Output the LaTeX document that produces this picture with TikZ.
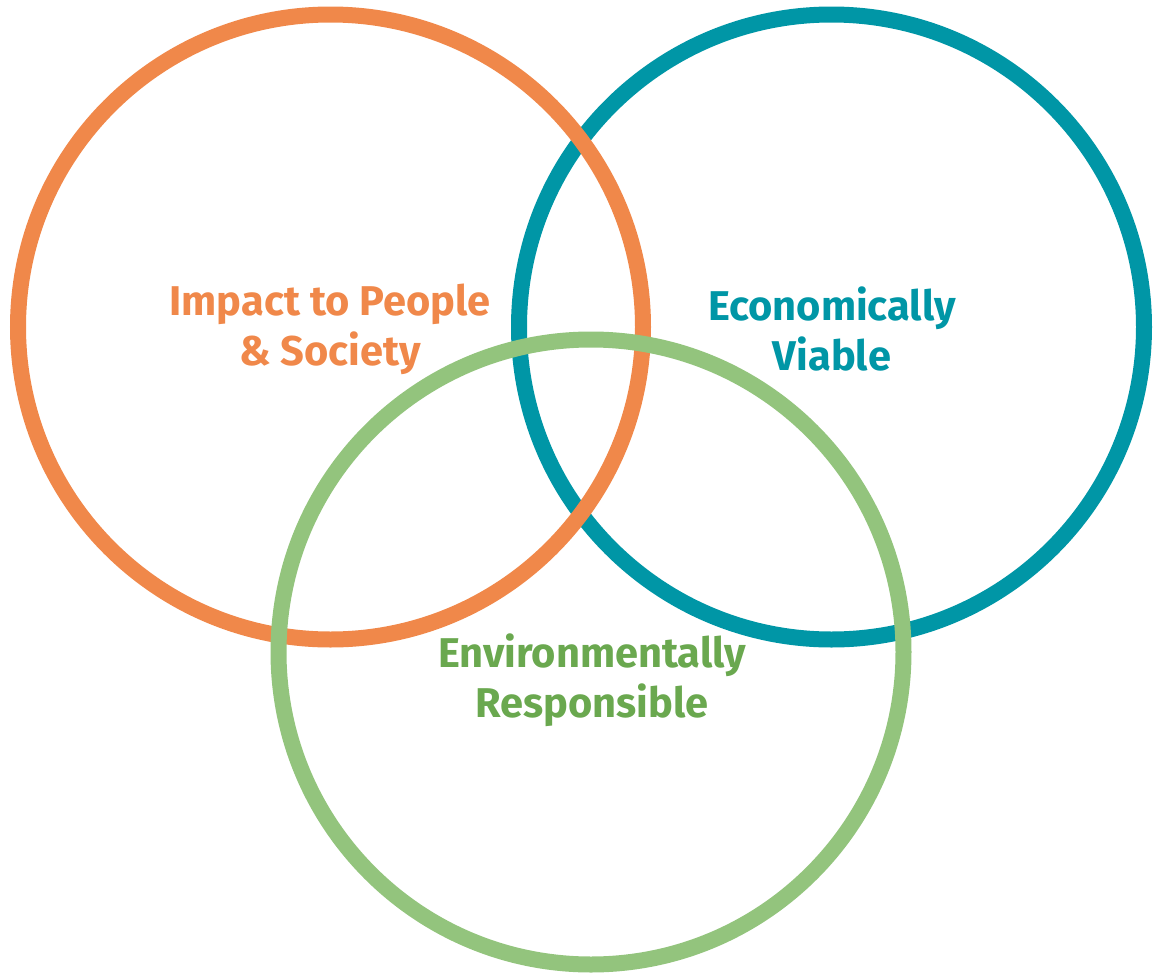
\documentclass[tikz,border=0pt]{standalone}
\usepackage{fontspec}
\setmainfont{Fira Sans}
\definecolor{peopleorange}{HTML}{F0884A}
\definecolor{econteal}{HTML}{0096A6}
\definecolor{envgreen}{HTML}{93C47D}
\definecolor{envtext}{HTML}{6AA84F}
\begin{document}
\begin{tikzpicture}[x=0.5pt,y=-0.5pt,
	ring/.style={line width=8pt},
	label/.style={align=center, font=\bfseries\fontsize{20.8}{25}\selectfont}]
				\useasboundingbox (0,0) rectangle (1153,980);
				\draw [ring, econteal] (831.5,327) circle [radius=156.25pt];
				\draw [ring, peopleorange] (330.5,327) circle [radius=156.25pt];
				\draw [ring, envgreen] (591,652) circle [radius=156.25pt];
				\node [label, peopleorange] (people) at (330,329) {Impact to People\\\& Society};
				\node [label, econteal] (econ) at (832,329) {Economically\\Viable};
				\node [label, envtext] (env) at (592,680) {Environmentally\\Responsible};
			\end{tikzpicture}
\end{document}
